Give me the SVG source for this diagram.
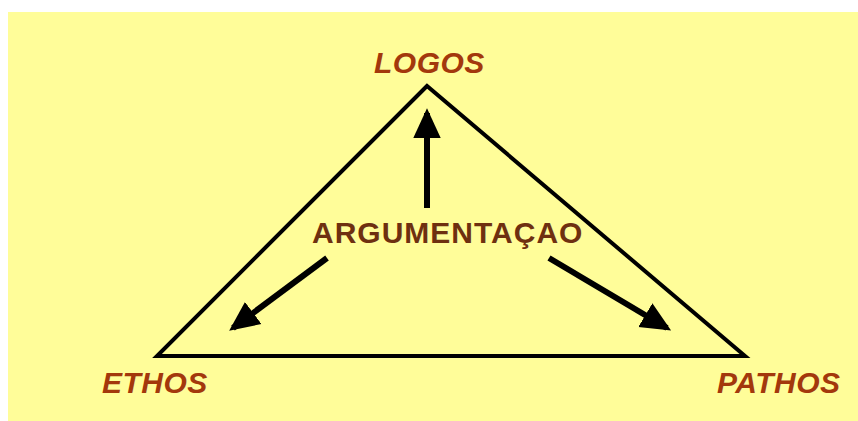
<svg xmlns="http://www.w3.org/2000/svg" width="858" height="421" viewBox="0 0 858 421">
<defs>
<style>
.lbl{font-family:"Liberation Sans",Arial,sans-serif;font-weight:bold;font-style:italic;font-size:30px;letter-spacing:0.5px;fill:#A3380C}
.ctr{font-family:"Liberation Sans",Arial,sans-serif;font-weight:bold;font-size:30px;letter-spacing:1px;fill:#6E3010}
.edge{stroke:#000;stroke-width:4;fill:none}
.arr{stroke:#000;stroke-width:6;fill:none;marker-end:url(#ah)}
</style>
<marker id="ah" markerWidth="5" markerHeight="5" refX="4.2" refY="2.5" orient="auto" markerUnits="strokeWidth" viewBox="0 0 5 5">
<path d="M0,0.2 L5,2.5 L0,4.8 z" fill="#000"/>
</marker>
</defs>
<rect x="8" y="12" width="850" height="409" fill="#FFFD99"/>
<g id="triangle">
<polygon class="edge" points="427,86 157,356 745,356" stroke-linejoin="miter"/>
</g>
<g id="logos"><text class="lbl" x="374" y="73">LOGOS</text></g>
<g id="ethos"><text class="lbl" x="102" y="393">ETHOS</text></g>
<g id="pathos"><text class="lbl" x="717" y="393">PATHOS</text></g>
<g id="argumentacao"><text class="ctr" x="312" y="243">ARGUMENTAÇAO</text></g>
<g id="connectors">
<line class="arr" x1="427" y1="208" x2="427" y2="113"/>
<line class="arr" x1="327" y1="258" x2="233" y2="328"/>
<line class="arr" x1="549" y1="258" x2="667" y2="328"/>
</g>
</svg>
